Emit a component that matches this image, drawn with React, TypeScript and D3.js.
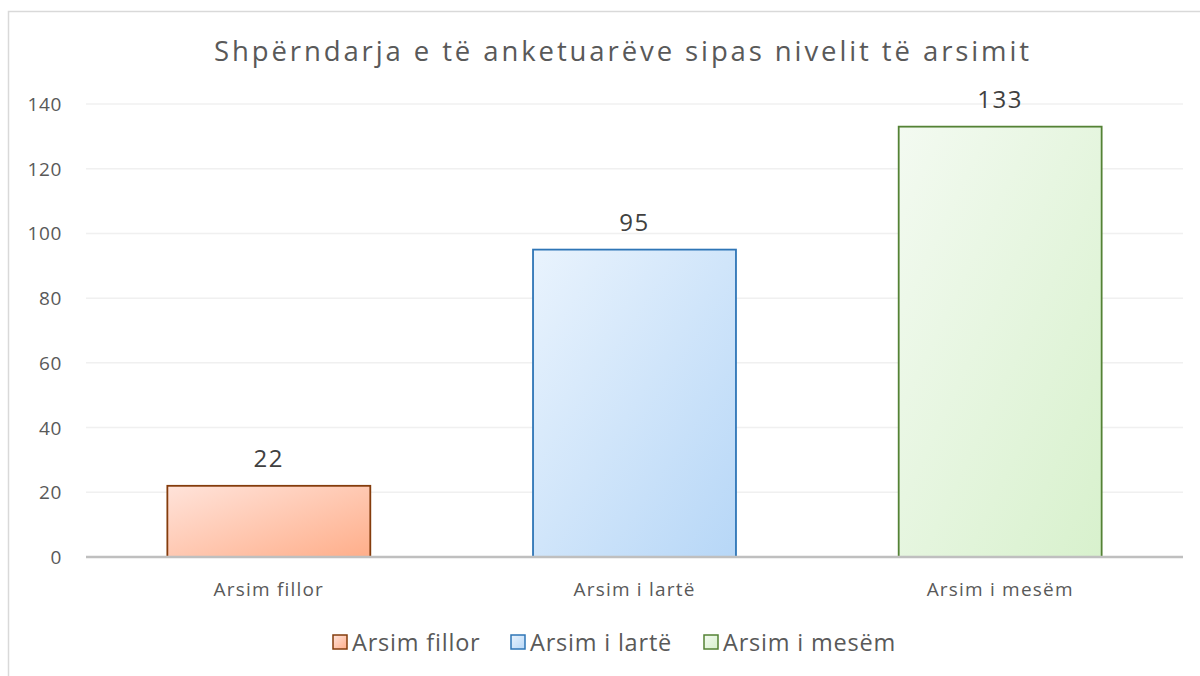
import React from "react";
import * as d3 from "d3";

const categories = ["Arsim fillor", "Arsim i lartë", "Arsim i mesëm"];
const values = [22, 95, 133];
const yTicks = [0, 20, 40, 60, 80, 100, 120, 140];
const fillsFrom = ["#ffe3da", "#e9f3fd", "#f3faf1"];
const fillsTo = ["#ffae8a", "#b7d7f7", "#d8f1cd"];
const strokes = ["#843c0c", "#2e75b6", "#548235"];

const W = 1200;
const H = 676;
const plot = { left: 86, right: 1183, top: 104, bottom: 557 };
const font = "'Open Sans', sans-serif";

export default function App() {
  const x = d3.scaleBand<string>().domain(categories).range([plot.left, plot.right]).paddingInner(0.445).paddingOuter(0.2225);
  const y = d3.scaleLinear().domain([0, 140]).range([plot.bottom, plot.top]);

  const legendItems = [
    { sq: 333, tx: 352 },
    { sq: 511, tx: 530 },
    { sq: 704, tx: 723 },
  ];

  return (
    <svg width={W} height={H} style={{ position: "absolute", left: 0, top: 0 }}>
      <defs>
        {categories.map((c, i) => (
          <linearGradient key={c} id={`g${i}`} x1="0" y1="0" x2="1" y2="1">
            <stop offset="0%" stopColor={fillsFrom[i]} />
            <stop offset="100%" stopColor={fillsTo[i]} />
          </linearGradient>
        ))}
      </defs>
      <rect x={0} y={0} width={W} height={H} fill="#fff" />
      <rect x={8.5} y={11.5} width={1300} height={800} fill="#fff" stroke="#d9d9d9" strokeWidth={1.5} />
      <text x={623} y={61} textAnchor="middle" fontFamily={font} fontSize={27.5} fill="#595959" letterSpacing={2.9}>
        Shpërndarja e të anketuarëve sipas nivelit të arsimit
      </text>
      {yTicks.map((t) => (
        <g key={t}>
          {t > 0 && <line x1={plot.left} x2={plot.right} y1={y(t)} y2={y(t)} stroke="#f0f0f0" strokeWidth={1.5} />}
          <text x={62} y={y(t) + 7} textAnchor="end" fontFamily={font} fontSize={19} fill="#595959" letterSpacing={0.6}>
            {t}
          </text>
        </g>
      ))}
      {categories.map((c, i) => {
        const bx = x(c)!;
        const bw = x.bandwidth();
        return (
          <g key={c}>
            <rect x={bx} y={y(values[i])} width={bw} height={y(0) - y(values[i])} fill={`url(#g${i})`} stroke={strokes[i]} strokeWidth={1.8} />
            <text x={bx + bw / 2} y={y(values[i]) - 19} textAnchor="middle" fontFamily={font} fontSize={24} fill="#404040" letterSpacing={1.5}>
              {values[i]}
            </text>
            <text x={bx + bw / 2} y={596} textAnchor="middle" fontFamily={font} fontSize={19} fill="#595959" letterSpacing={1.2}>
              {c}
            </text>
          </g>
        );
      })}
      <line x1={plot.left} x2={plot.right} y1={y(0)} y2={y(0)} stroke="#bfbfbf" strokeWidth={2.5} />
      {categories.map((c, i) => (
        <g key={c}>
          <rect x={legendItems[i].sq} y={635} width={14} height={14} fill={`url(#g${i})`} stroke={strokes[i]} strokeWidth={1.5} />
          <text x={legendItems[i].tx} y={651} fontFamily={font} fontSize={23.5} fill="#595959" letterSpacing={0.8}>
            {c}
          </text>
        </g>
      ))}
    </svg>
  );
}
